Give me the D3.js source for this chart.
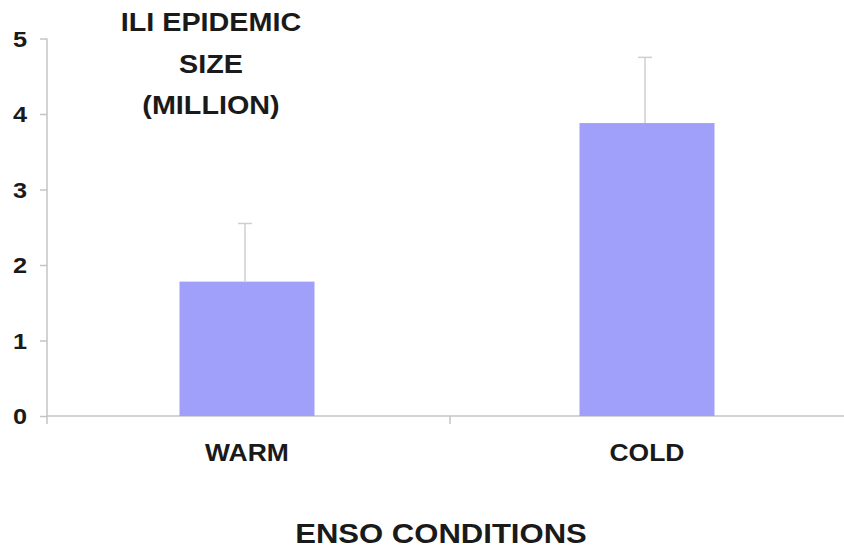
<!DOCTYPE html>
<html>
<head>
<meta charset="utf-8">
<script src="https://cdn.jsdelivr.net/npm/d3@7"></script>
<style>
  html, body { margin: 0; padding: 0; background: #fff; }
  svg { display: block; }
  text { font-family: "Liberation Sans", Arial, sans-serif; font-weight: bold; fill: #1a1a1a; }
</style>
</head>
<body>
<svg id="chart" width="844" height="548"></svg>
<script>
// ILI epidemic size by ENSO condition
const categories = ["WARM", "COLD"];
const meanSize = [1.78, 3.88];      // million
const errorUpper = [2.55, 4.75];     // top of error bar, million
const yTicks = [0, 1, 2, 3, 4, 5];
const titleLines = ["ILI EPIDEMIC", "SIZE", "(MILLION)"];
const xTitle = "ENSO CONDITIONS";

const svg = d3.select("#chart");
const stretch = 1.15; // wide lettering

const x = d3.scaleBand().domain(categories).range([47, 847]).paddingInner(0).paddingOuter(0);
const y = d3.scaleLinear().domain([0, 5]).range([416, 38.5]);
const barW = x.bandwidth() * 0.3375;

function widen(sel) {
  sel.each(function () {
    const len = this.getComputedTextLength();
    d3.select(this).attr("textLength", len * stretch).attr("lengthAdjust", "spacingAndGlyphs");
  });
}

// axes
const axisColor = "#c4c4c4";
const yAxis = svg.append("g").attr("transform", "translate(47,0)")
  .call(d3.axisLeft(y).tickValues(yTicks).tickSize(7).tickPadding(13).tickFormat(d3.format("d")));
yAxis.select(".domain").attr("stroke", axisColor).attr("stroke-width", 1.5).attr("d", `M0,${y(5)}V${y(0)}`);
yAxis.selectAll(".tick line").attr("stroke", axisColor).attr("stroke-width", 1.5);
yAxis.selectAll(".tick text").attr("font-size", 22).attr("fill", "#1a1a1a")
  .attr("font-family", "Liberation Sans, Arial, sans-serif").attr("font-weight", "bold").attr("dy", "0.36em");

const xAxis = svg.append("g").attr("transform", `translate(0,${y(0)})`);
xAxis.append("line").attr("x1", 47).attr("x2", 844).attr("stroke", axisColor).attr("stroke-width", 1.5);
xAxis.selectAll("line.sep").data(categories.slice(1)).join("line").attr("class", "sep")
  .attr("x1", d => x(d) + 3).attr("x2", d => x(d) + 3).attr("y1", 0).attr("y2", 8)
  .attr("stroke", axisColor).attr("stroke-width", 1.5);
xAxis.append("line").attr("x1", 47).attr("x2", 47).attr("y1", 0).attr("y2", 8)
  .attr("stroke", axisColor).attr("stroke-width", 1.5);

// bars
svg.selectAll("rect.bar").data(categories).join("rect").attr("class", "bar")
  .attr("x", (d) => x(d) + x.bandwidth() / 2 - barW / 2)
  .attr("width", barW)
  .attr("y", (d, i) => y(meanSize[i]))
  .attr("height", (d, i) => y(0) - y(meanSize[i]))
  .attr("fill", "#a0a0fb");

// error bars
const errColor = "#cfcfcf";
const eg = svg.selectAll("g.err").data(categories).join("g").attr("class", "err");
eg.append("line")
  .attr("x1", d => x(d) + x.bandwidth() / 2 - 2).attr("x2", d => x(d) + x.bandwidth() / 2 - 2)
  .attr("y1", (d, i) => y(meanSize[i])).attr("y2", (d, i) => y(errorUpper[i]))
  .attr("stroke", errColor).attr("stroke-width", 1.5);
eg.append("line")
  .attr("x1", d => x(d) + x.bandwidth() / 2 - 9).attr("x2", d => x(d) + x.bandwidth() / 2 + 5)
  .attr("y1", (d, i) => y(errorUpper[i])).attr("y2", (d, i) => y(errorUpper[i]))
  .attr("stroke", errColor).attr("stroke-width", 1.5);

// category labels
svg.selectAll("text.cat").data(categories).join("text").attr("class", "cat")
  .attr("x", d => x(d) + x.bandwidth() / 2)
  .attr("y", 461)
  .attr("text-anchor", "middle")
  .attr("font-size", 23)
  .text(d => d)
  .call(widen);

// axis title
svg.append("text")
  .attr("x", 441).attr("y", 543)
  .attr("text-anchor", "middle")
  .attr("font-size", 27)
  .text(xTitle)
  .call(widen);

// chart title block
svg.selectAll("text.title").data(titleLines).join("text").attr("class", "title")
  .attr("x", 211)
  .attr("y", (d, i) => 31 + i * 41.5)
  .attr("text-anchor", "middle")
  .attr("font-size", 25)
  .text(d => d)
  .call(widen);

yAxis.selectAll(".tick text").call(widen);
</script>
</body>
</html>
